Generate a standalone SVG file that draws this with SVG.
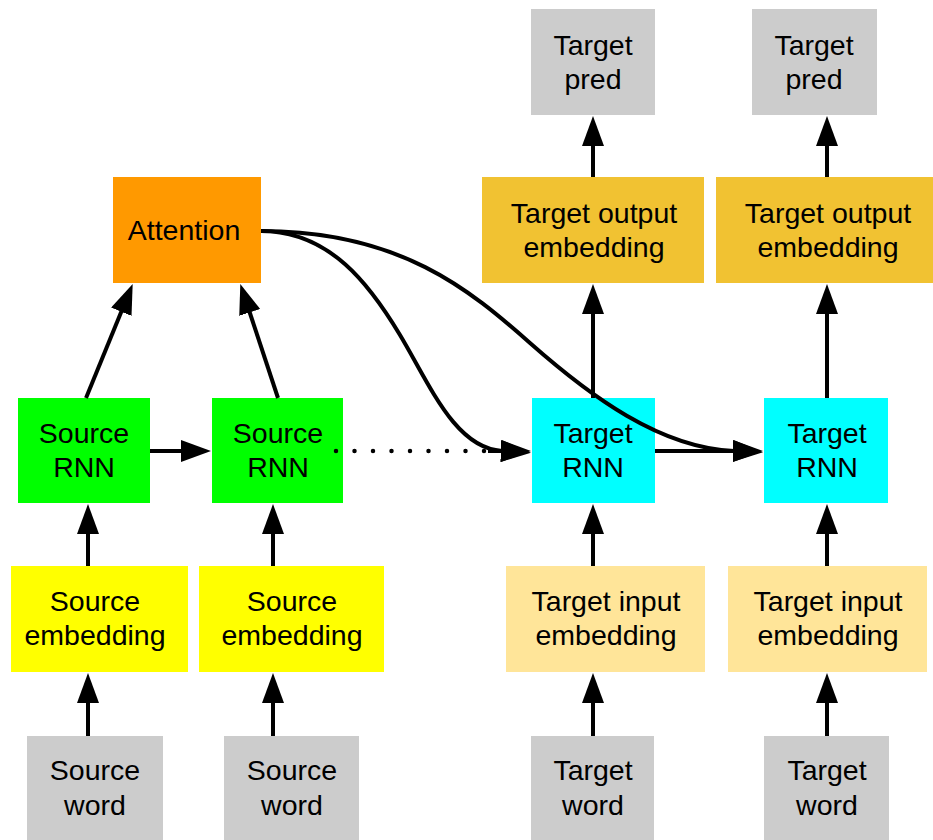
<svg xmlns="http://www.w3.org/2000/svg" width="933" height="840" viewBox="0 0 933 840">
  <style>
    .lbl { font-family: "Liberation Sans", Arial, sans-serif; font-size: 28.5px; fill: #000; text-anchor: middle; }
    .gray { fill: #cccccc; }
    .att { fill: #ff9900; }
    .src-rnn { fill: #00ff00; }
    .tgt-rnn { fill: #00ffff; }
    .src-emb { fill: #ffff00; }
    .tgt-in { fill: #ffe599; }
    .tgt-out { fill: #f1c232; }
    .edge { fill: none; stroke: #000; stroke-width: 4; marker-end: url(#head); }
    .dots { fill: none; stroke: #000; stroke-width: 4.5; stroke-linecap: round; stroke-dasharray: 0 18.5; }
  </style>
  <defs>
    <marker id="head" markerUnits="userSpaceOnUse" viewBox="0 0 30 22" markerWidth="30" markerHeight="22" refX="1" refY="11" orient="auto">
      <path d="M0,0 L30,11 L0,22 Z" fill="#000"/>
    </marker>
  </defs>
  <rect width="933" height="840" fill="#fff"/>

  <!-- nodes -->
  <g id="target-pred-1"><rect class="gray" x="531" y="9" width="124" height="106"/>
    <text class="lbl" x="593" y="55">Target</text><text class="lbl" x="593" y="89">pred</text></g>
  <g id="target-pred-2"><rect class="gray" x="752" y="9" width="125" height="106"/>
    <text class="lbl" x="814" y="55">Target</text><text class="lbl" x="814" y="89">pred</text></g>

  <g id="attention"><rect class="att" x="113" y="177" width="148" height="106"/>
    <text class="lbl" x="184" y="240">Attention</text></g>
  <g id="target-out-emb-1"><rect class="tgt-out" x="482" y="177" width="222" height="106"/>
    <text class="lbl" x="594" y="223">Target output</text><text class="lbl" x="594" y="257">embedding</text></g>
  <g id="target-out-emb-2"><rect class="tgt-out" x="716" y="177" width="224" height="106"/>
    <text class="lbl" x="828" y="223">Target output</text><text class="lbl" x="828" y="257">embedding</text></g>

  <g id="source-rnn-1"><rect class="src-rnn" x="18" y="398" width="132" height="105"/>
    <text class="lbl" x="84" y="443">Source</text><text class="lbl" x="84" y="477">RNN</text></g>
  <g id="source-rnn-2"><rect class="src-rnn" x="212" y="398" width="131" height="105"/>
    <text class="lbl" x="278" y="443">Source</text><text class="lbl" x="278" y="477">RNN</text></g>
  <g id="target-rnn-1"><rect class="tgt-rnn" x="532" y="398" width="123" height="105"/>
    <text class="lbl" x="593" y="443">Target</text><text class="lbl" x="593" y="477">RNN</text></g>
  <g id="target-rnn-2"><rect class="tgt-rnn" x="764" y="398" width="124" height="105"/>
    <text class="lbl" x="827" y="443">Target</text><text class="lbl" x="827" y="477">RNN</text></g>

  <g id="source-emb-1"><rect class="src-emb" x="11" y="566" width="177" height="106"/>
    <text class="lbl" x="95" y="611">Source</text><text class="lbl" x="95" y="645">embedding</text></g>
  <g id="source-emb-2"><rect class="src-emb" x="199" y="566" width="185" height="106"/>
    <text class="lbl" x="292" y="611">Source</text><text class="lbl" x="292" y="645">embedding</text></g>
  <g id="target-in-emb-1"><rect class="tgt-in" x="506" y="566" width="199" height="106"/>
    <text class="lbl" x="606" y="611">Target input</text><text class="lbl" x="606" y="645">embedding</text></g>
  <g id="target-in-emb-2"><rect class="tgt-in" x="728" y="566" width="199" height="106"/>
    <text class="lbl" x="828" y="611">Target input</text><text class="lbl" x="828" y="645">embedding</text></g>

  <g id="source-word-1"><rect class="gray" x="27" y="736" width="136" height="110"/>
    <text class="lbl" x="95" y="780">Source</text><text class="lbl" x="95" y="815">word</text></g>
  <g id="source-word-2"><rect class="gray" x="224" y="736" width="135" height="110"/>
    <text class="lbl" x="292" y="780">Source</text><text class="lbl" x="292" y="815">word</text></g>
  <g id="target-word-1"><rect class="gray" x="531" y="736" width="123" height="110"/>
    <text class="lbl" x="593" y="780">Target</text><text class="lbl" x="593" y="815">word</text></g>
  <g id="target-word-2"><rect class="gray" x="764" y="736" width="125" height="110"/>
    <text class="lbl" x="827" y="780">Target</text><text class="lbl" x="827" y="815">word</text></g>

  <!-- connectors -->
  <g id="connectors">
    <!-- source side, bottom to top -->
    <path class="edge" d="M88,736 L88,702"/>
    <path class="edge" d="M88,566 L88,533"/>
    <path class="edge" d="M273,736 L273,702"/>
    <path class="edge" d="M273,566 L273,533"/>
    <path class="edge" d="M86,398 L121.7,310.8"/>
    <path class="edge" d="M278,398 L249.4,311.5"/>
    <path class="edge" d="M150,451 L182,451"/>

    <!-- encoder to decoder -->
    <path class="dots" d="M336,451 L486,451"/>
    <path class="edge" d="M488,451 L502,451"/>
    <path class="edge" d="M655,451 L734,451"/>

    <!-- attention context into each decoder step -->
    <path class="edge" d="M261,231 C330,231 370,285 400,335 S455,448 502,451"/>
    <path class="edge" d="M261,231 C400,231 470,290 530,343 S660,448 734,451"/>

    <!-- target side, bottom to top -->
    <path class="edge" d="M593,736 L593,702"/>
    <path class="edge" d="M593,566 L593,533"/>
    <path class="edge" d="M593,398 L593,313"/>
    <path class="edge" d="M593,177 L593,145"/>
    <path class="edge" d="M827,736 L827,702"/>
    <path class="edge" d="M827,566 L827,533"/>
    <path class="edge" d="M827,398 L827,313"/>
    <path class="edge" d="M827,177 L827,145"/>
  </g>
</svg>
